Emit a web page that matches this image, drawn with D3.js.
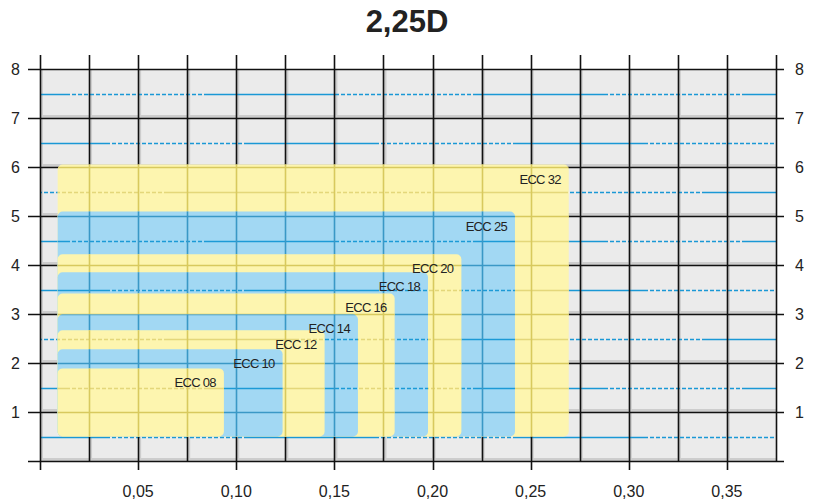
<!DOCTYPE html>
<html>
<head>
<meta charset="utf-8">
<script src="https://d3js.org/d3.v7.min.js"></script>
<style>
  body { margin: 0; background: #fff; }
  text { font-family: "Liberation Sans", Arial, sans-serif; fill: #222; }
</style>
</head>
<body>
<script>
//chart data
var names = ["ECC 08", "ECC 10", "ECC 12", "ECC 14", "ECC 16", "ECC 18", "ECC 20", "ECC 25", "ECC 32"];
var xRight = [0.0937, 0.1236, 0.145, 0.162, 0.1807, 0.1977, 0.2147, 0.242, 0.2694];
var yTop = [1.89, 2.28, 2.67, 2.99, 3.42, 3.85, 4.22, 5.09, 6.05];
var xLeft = 0.009, yBottom = 0.5;
var kinds = ["y", "b", "y", "b", "y", "b", "y", "b", "y"];
var xTicks = [0.05, 0.10, 0.15, 0.20, 0.25, 0.30, 0.35];
var yTicks = [1, 2, 3, 4, 5, 6, 7, 8];

var width = 816, height = 504;

var svg = d3.select("body").append("svg")
    .attr("width", width)
    .attr("height", height);

var x = d3.scaleLinear().domain([0, 0.375]).range([40, 776]);
var y = d3.scaleLinear().domain([0, 8]).range([461, 69]);
//snap to pixel centres for crisp lines
function px(v){ return Math.round(x(v)) + 0.5; }
function py(v){ return Math.round(y(v)) + 0.5; }

var fmt = d3.formatLocale({decimal: ",", thousands: ".", grouping: [3], currency: ["", ""]}).format(".2f");

var fills = {y: "#fdf5af", b: "#a2d8f3"};
var lineCol = {y: "#d8c95e", b: "#3a98c6"};
var halfCol = {y: "#e4d77a", b: "#1c9ad6"};

var vGrid = d3.range(0, 16).map(function(i){ return i * 0.025; });
var hGrid = d3.range(0, 9);
var hHalf = d3.range(0, 8).map(function(i){ return i + 0.5; });

//solid stretch then dashed stretch, repeating
var dashes = [135, 2];
for (var k = 0; k < 22; k++) { dashes.push(4, 2); }
var dashStr = dashes.join(",");

//cells with small shadow
var cellW = x(0.025) - x(0), cellH = y(0) - y(1);
var cells = svg.append("g");
vGrid.slice(0, 15).forEach(function(vx){
    hGrid.slice(0, 8).forEach(function(hy){
        var cx = x(vx), cy = y(hy + 1);
        cells.append("rect").attr("x", cx).attr("y", cy)
            .attr("width", cellW).attr("height", cellH).attr("fill", "#cdcdcd");
        cells.append("rect").attr("x", cx + 3).attr("y", cy)
            .attr("width", cellW - 3).attr("height", cellH - 3).attr("fill", "#ebebeb");
    });
});

function drawGrid(g, col, hcol, full) {
    g.selectAll(".hh").data(hHalf).enter().append("line")
        .attr("x1", x(0)).attr("x2", x(0.375))
        .attr("y1", function(d){ return py(d); }).attr("y2", function(d){ return py(d); })
        .attr("stroke", hcol).attr("stroke-width", 1.4)
        .attr("stroke-dasharray", dashStr)
        .attr("stroke-dashoffset", function(d, i){ return 65 + (i % 3) * 40; });
    g.selectAll(".vv").data(vGrid).enter().append("line")
        .attr("x1", function(d){ return px(d); }).attr("x2", function(d){ return px(d); })
        .attr("y1", full ? 55 : y(8))
        .attr("y2", function(d, i){ return full && i % 2 == 0 ? 470 : y(0); })
        .attr("stroke", col).attr("stroke-width", 1.6);
    g.selectAll(".hg").data(hGrid).enter().append("line")
        .attr("x1", full ? 28 : x(0)).attr("x2", full ? 784 : x(0.375))
        .attr("y1", function(d){ return py(d); }).attr("y2", function(d){ return py(d); })
        .attr("stroke", col).attr("stroke-width", 1.6);
}

drawGrid(svg.append("g"), "#111", "#1a98d5", true);

//rectangles, largest first, grid showing through in a tint
var defs = svg.append("defs");
var order = d3.range(names.length).reverse();
order.forEach(function(i){
    var rx0 = x(xLeft), ry0 = y(yTop[i]);
    var w = x(xRight[i]) - rx0, h = y(yBottom) - ry0;
    defs.append("clipPath").attr("id", "clip" + i)
        .append("rect").attr("x", rx0).attr("y", ry0)
        .attr("width", w).attr("height", h).attr("rx", 5);
    svg.append("rect").attr("x", rx0).attr("y", ry0)
        .attr("width", w).attr("height", h).attr("rx", 5)
        .attr("fill", fills[kinds[i]]);
    var g = svg.append("g").attr("clip-path", "url(#clip" + i + ")");
    drawGrid(g, lineCol[kinds[i]], halfCol[kinds[i]], false);
});

//labels
svg.selectAll(".lbl").data(names).enter().append("text")
    .attr("x", function(d, i){ return x(xRight[i]) - 8; })
    .attr("y", function(d, i){ return y(yTop[i]) + 19; })
    .attr("text-anchor", "end")
    .attr("font-size", "13px")
    .attr("letter-spacing", "-0.7px")
    .text(function(d){ return d; });

//tick labels
svg.selectAll(".xl").data(xTicks).enter().append("text")
    .attr("x", function(d){ return x(d); })
    .attr("y", 497)
    .attr("text-anchor", "middle")
    .attr("font-size", "16px")
    .text(function(d){ return fmt(d); });

svg.selectAll(".yl").data(yTicks).enter().append("text")
    .attr("x", 20)
    .attr("y", function(d){ return y(d) + 6; })
    .attr("text-anchor", "end")
    .attr("font-size", "16px")
    .text(function(d){ return d; });

svg.selectAll(".yr").data(yTicks).enter().append("text")
    .attr("x", 795)
    .attr("y", function(d){ return y(d) + 6; })
    .attr("text-anchor", "start")
    .attr("font-size", "16px")
    .text(function(d){ return d; });

//title
svg.append("text")
    .attr("x", 407).attr("y", 32)
    .attr("text-anchor", "middle")
    .attr("font-size", "31px")
    .attr("font-weight", "bold")
    .text("2,25D");
</script>
</body>
</html>
